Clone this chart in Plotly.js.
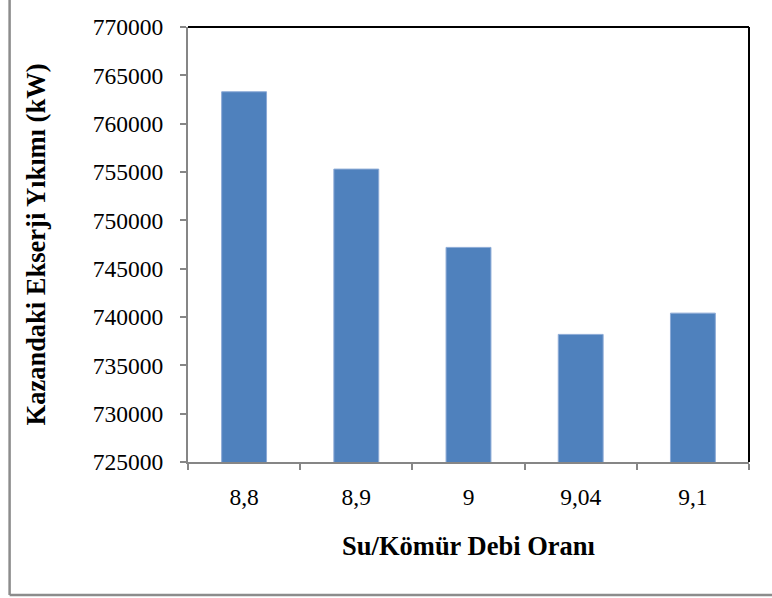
<!DOCTYPE html>
<html>
<head>
<meta charset="utf-8">
<script src="https://cdn.plot.ly/plotly-3.0.1.min.js"></script>
<style>
  html, body { margin: 0; padding: 0; background: #ffffff; }
  #chart { width: 772px; height: 598px; }
</style>
</head>
<body>
<div id="chart"></div>
<script>
// Water/coal flow ratio categories and boiler exergy destruction (kW)
const ratios = ['8,8', '8,9', '9', '9,04', '9,1'];
const exergyDestruction = [763300, 755300, 747200, 738200, 740400];
const yTicks = [725000, 730000, 735000, 740000, 745000, 750000, 755000, 760000, 765000, 770000];

const serif = '"Liberation Serif", "Times New Roman", serif';

const trace = {
  type: 'bar',
  x: ratios,
  y: exergyDestruction,
  marker: { color: '#4F81BD', line: { color: '#8CAAD6', width: 1 } },
  hoverinfo: 'x+y'
};

const layout = {
  width: 772,
  height: 598,
  margin: { l: 188, r: 23, t: 27, b: 136 },
  paper_bgcolor: '#ffffff',
  plot_bgcolor: '#ffffff',
  showlegend: false,
  bargap: 0.6,
  font: { family: serif, color: '#000000', size: 23 },
  xaxis: {
    type: 'category',
    showgrid: false,
    showline: true,
    linecolor: '#868686',
    linewidth: 2,
    ticks: 'outside',
    tickson: 'boundaries',
    ticklen: 6,
    tickwidth: 2,
    tickcolor: '#868686',
    ticklabelstandoff: 13,
    tickfont: { family: serif, size: 23.5, color: '#000000' },
    title: {
      text: '<b>Su/Kömür Debi Oranı</b>',
      font: { family: serif, size: 26.5, color: '#000000' },
      standoff: 27
    }
  },
  yaxis: {
    range: [725000, 770000],
    tickvals: yTicks,
    ticktext: yTicks.map(String),
    showgrid: false,
    zeroline: false,
    showline: true,
    linecolor: '#868686',
    linewidth: 2,
    ticks: 'outside',
    ticklen: 6,
    tickwidth: 2,
    tickcolor: '#868686',
    ticklabelstandoff: 12,
    tickfont: { family: serif, size: 23.5, color: '#000000' },
    title: {
      text: '<b>Kazandaki Ekserji Yıkımı (kW)</b>',
      font: { family: serif, size: 26.5, color: '#000000' },
      standoff: 40
    }
  },
  shapes: [
    // dark top and right edges of the plot area
    { type: 'line', xref: 'paper', yref: 'paper', x0: 0, x1: 1, y0: 1, y1: 1,
      line: { color: '#000000', width: 2 } },
    { type: 'line', xref: 'paper', yref: 'paper', x0: 1, x1: 1, y0: 0, y1: 1,
      line: { color: '#000000', width: 2 } },
    // outer chart frame (left and bottom edges)
    { type: 'line', xref: 'paper', yref: 'paper', x0: -0.318, x1: -0.318, y0: -0.306, y1: 1.2,
      line: { color: '#8c8c8c', width: 2.5 } },
    { type: 'line', xref: 'paper', yref: 'paper', x0: -0.318, x1: 1.1, y0: -0.306, y1: -0.306,
      line: { color: '#8c8c8c', width: 2.5 } }
  ]
};

Plotly.newPlot('chart', [trace], layout, { displayModeBar: false, staticPlot: true });
</script>
</body>
</html>
